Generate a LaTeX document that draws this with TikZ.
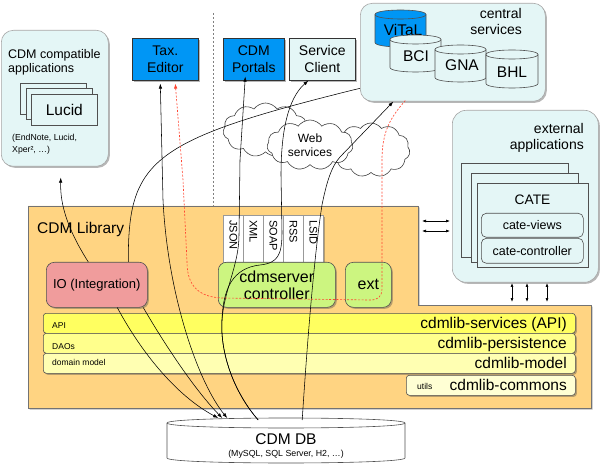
\documentclass[tikz,border=0pt]{standalone}
\usepackage{fontspec}
\setmainfont{Liberation Sans}
\usetikzlibrary{shapes.symbols,shadows,arrows.meta,calc}
\definecolor{cyanbox}{RGB}{228,246,246}
\definecolor{bluebox}{RGB}{0,150,245}
\definecolor{libor}{RGB}{255,212,130}
\definecolor{iopink}{RGB}{240,156,156}
\definecolor{srvgreen}{RGB}{204,245,128}
\definecolor{layA}{RGB}{255,255,96}
\definecolor{layB}{RGB}{255,255,140}
\definecolor{layC}{RGB}{255,255,178}
\definecolor{layD}{RGB}{255,255,212}
\definecolor{reddash}{RGB}{255,70,50}
\definecolor{edgegray}{RGB}{80,80,80}
\newcommand{\fs}[2]{\fontsize{#1}{#2}\selectfont}
% cylinder: x1, x2, top, bottom, ry, fill
\newcommand{\drawcyl}[6]{%
  \filldraw[fill=#6, draw=edgegray, line width=0.6pt]
    (#1,#3+#5) -- (#1,#4-#5) .. controls (#1,#4+#5/3) and (#2,#4+#5/3) .. (#2,#4-#5)
    -- (#2,#3+#5) .. controls (#2,#3-#5/3) and (#1,#3-#5/3) .. (#1,#3+#5) -- cycle;
  \draw[edgegray, line width=0.6pt]
    (#1,#3+#5) .. controls (#1,#3+7*#5/3) and (#2,#3+7*#5/3) .. (#2,#3+#5);}
\begin{document}
\begin{tikzpicture}[x=1pt,y=-1pt,>={Latex[length=5pt,width=3.5pt]},
  shd/.style={drop shadow={shadow xshift=1.5pt,shadow yshift=-1.5pt,opacity=0.4,fill=black!70}},
  cyanR/.style={draw=gray!70,fill=cyanbox,rounded corners=12pt,shd,line width=0.6pt,inner sep=0,anchor=north west},
  blueB/.style={draw=black!80,fill=bluebox,shd,line width=0.6pt,inner sep=0,anchor=north west,align=center,font=\fs{14}{17}},
  clientB/.style={draw=black!80,fill=cyanbox,shd,line width=0.6pt,inner sep=0,anchor=north west,align=center,font=\fs{14}{17}},
  stackB/.style={draw=edgegray,fill=cyanbox,line width=0.6pt,inner sep=0,anchor=north west},
  pinkB/.style={draw=edgegray,fill=iopink,rounded corners=8pt,shd,line width=0.6pt,inner sep=0,anchor=north west,font=\fs{13}{15}},
  greenB/.style={draw=edgegray,fill=srvgreen,rounded corners=8pt,shd,line width=0.6pt,inner sep=0,anchor=north west,align=center,font=\fs{16}{17}},
  tabB/.style={draw=gray!80,fill=white,shd,line width=0.6pt,inner sep=0,anchor=north west,minimum width=20,minimum height=47},
  tabT/.style={rotate=-90,anchor=west,inner sep=0,font=\fs{11}{13}},
  layerB/.style={draw=edgegray,rounded corners=3pt,shd,line width=0.6pt,inner sep=0,anchor=north west,minimum height=20},
  bigT/.style={anchor=base east,inner sep=0,font=\fs{15.5}{18}},
  smallT/.style={anchor=base west,inner sep=0,font=\fs{8.5}{10}},
  cloudB/.style={cloud,cloud puffs=11,cloud puff arc=110,cloud ignores aspect,draw=black!75,fill=white,line width=0.6pt,inner sep=0},
  conn/.style={draw=black,line width=0.55pt},
  redconn/.style={draw=reddash,line width=0.65pt,dash pattern=on 2pt off 1.6pt},
  dblarr/.style={draw=black,line width=0.6pt,{Latex[length=4pt,width=3pt]}-{Latex[length=4pt,width=3pt]}}
]
\useasboundingbox (0,0) rectangle (600,465);

% separator
\draw[gray,line width=0.7pt,dash pattern=on 2pt off 2pt] (213,13) -- (213,206);

% CDM compatible applications
\node[cyanR,minimum width=107,minimum height=136] (compat) at (1,30) {};
\node[anchor=north west,align=left,inner sep=0,font=\fs{12.5}{14}] (compatT) at (8,49) {CDM compatible\\applications};
\node[stackB,minimum width=66,minimum height=31] (lucA) at (20,83) {};
\node[stackB,minimum width=66,minimum height=31] (lucB) at (25.5,88.5) {};
\node[stackB,minimum width=66,minimum height=31,font=\fs{15.5}{18}] (lucid) at (31,94) {Lucid};
\node[anchor=north west,align=left,inner sep=0,font=\fs{8.7}{11.5}] (compatN) at (12,134) {(EndNote, Lucid,\\Xper², …)};

% top boxes
\node[blueB,minimum width=66,minimum height=42] (tax) at (132,38) {Tax.\\Editor};
\node[blueB,minimum width=61,minimum height=42] (portals) at (223,38) {CDM\\Portals};
\node[clientB,minimum width=66,minimum height=42] (sc) at (289,38) {Service\\Client};

% central services
\node[cyanR,minimum width=185,minimum height=98] (cs) at (360,3) {};
\node[anchor=north east,align=right,inner sep=0,font=\fs{14}{16}] (csT) at (522,8) {central\\services};
\drawcyl{375}{426}{10}{47}{4.5}{bluebox}
\node[inner sep=0,font=\fs{15.5}{18}] (vital) at (403,30) {ViTaL};
\drawcyl{390}{441}{35}{72}{4.5}{cyanbox}
\node[inner sep=0,font=\fs{15.5}{18}] (bci) at (416,56) {BCI};
\drawcyl{435}{486}{45}{82}{4.5}{cyanbox}
\node[inner sep=0,font=\fs{15.5}{18}] (gna) at (462,65) {GNA};
\drawcyl{486}{538}{50}{88}{4.5}{cyanbox}
\node[inner sep=0,font=\fs{15.5}{18}] (bhl) at (512,72) {BHL};

% external applications
\node[cyanR,rounded corners=14pt,minimum width=146,minimum height=172] (extapp) at (452,110) {};
\node[anchor=north east,align=right,inner sep=0,font=\fs{14}{16}] (extT) at (584,123) {external\\applications};
\node[stackB,minimum width=107,minimum height=94] (cateA) at (461,163) {};
\node[stackB,minimum width=107,minimum height=89] (cateB) at (471,173) {};
\node[stackB,minimum width=111,minimum height=84] (cate) at (477,183) {};
\node[inner sep=0,font=\fs{13.75}{16}] (cateT) at (532.5,200) {CATE};
\node[stackB,rounded corners=5pt,minimum width=102,minimum height=24,font=\fs{12.5}{14}] (cviews) at (481,213) {cate-views};
\node[stackB,rounded corners=5pt,minimum width=102,minimum height=25,font=\fs{12.5}{14}] (cctrl) at (481,238) {cate-controller};

% CDM Library
\fill[black!70,opacity=0.4,xshift=1.5pt,yshift=-1.5pt] (28,206) -- (418,206) -- (418,305) -- (591,305) -- (591,408) -- (28,408) -- cycle;
\filldraw[fill=libor,draw=black!55,line width=0.6pt] (28,206) -- (418,206) -- (418,305) -- (591,305) -- (591,408) -- (28,408) -- cycle;
\node[anchor=base west,inner sep=0,font=\fs{15.5}{18}] (libT) at (37,234) {CDM Library};

\node[pinkB,minimum width=101,minimum height=45] (io) at (46,262) {IO (Integration)};

\node[tabB] (json) at (223,215) {};
\node[tabB] (xml) at (243,215) {};
\node[tabB] (soap) at (263,215) {};
\node[tabB] (rss) at (283,215) {};
\node[tabB] (lsid) at (303,215) {};
\node[tabT] at ($(json.north)+(0,5)$) {JSON};
\node[tabT] at ($(xml.north)+(0,5)$) {XML};
\node[tabT] at ($(soap.north)+(0,5)$) {SOAP};
\node[tabT] at ($(rss.north)+(0,5)$) {RSS};
\node[tabT] at ($(lsid.north)+(0,5)$) {LSID};

\node[greenB,minimum width=117,minimum height=45] (srv) at (218,262) {cdmserver\\controller};
\node[greenB,minimum width=46,minimum height=45] (ext) at (345,262) {ext};

\node[layerB,fill=layA,minimum width=532] (lapi) at (43,313) {};
\node[layerB,fill=layB,minimum width=532] (lper) at (43,333) {};
\node[layerB,fill=layC,minimum width=532] (lmod) at (43,353) {};
\node[layerB,fill=layD,minimum width=169] (lcom) at (406,375) {};
\node[bigT] (tapi) at (567,328) {cdmlib-services (API)};
\node[bigT] (tper) at (567,348) {cdmlib-persistence};
\node[bigT] (tmod) at (567,368) {cdmlib-model};
\node[bigT] (tcom) at (567,390) {cdmlib-commons};
\node[smallT] (sapi) at (52,328) {API};
\node[smallT] (sdao) at (52,349) {DAOs};
\node[smallT] (smod) at (52,365) {domain model};
\node[smallT] (sut) at (417,389) {utils};

% CDM DB
\drawcyl{167}{405}{418}{463}{5}{white}
\node[minimum width=238,minimum height=45,inner sep=0,anchor=north west] (db) at (167,418) {};
\node[inner sep=0,font=\fs{15.5}{18}] (dbT) at (286,439) {CDM DB};
\node[inner sep=0,font=\fs{8.8}{10}] (dbN) at (286,454) {(MySQL, SQL Server, H2, …)};

% clouds
\node[cloudB,minimum width=85,minimum height=54] (cl1) at (265.5,130) {};
\node[cloudB,minimum width=78,minimum height=54] (cl3) at (371,150) {};
\node[cloudB,minimum width=86,minimum height=50,align=center,font=\fs{12}{14}] (web) at (310,145) {Web\\services};

% connectors
\draw[conn,->] ([xshift=-8.5pt]io.north) .. controls (68,230) and (60,205) .. ([xshift=6pt,yshift=-11pt]compat.south);
\draw[conn] ([xshift=31.5pt]io.north) .. controls (128,160) and (150,140) .. ([yshift=-36pt]cs.west);
\draw[conn,<->] ([xshift=-5pt,yshift=-3pt]tax.south) -- (163,200) .. controls (168,300) and (200,385) .. ([xshift=-59pt]db.north);
\draw[conn,->] ([xshift=20.5pt]io.south) .. controls (140,350) and (175,395) .. ([xshift=-68pt]db.north);
\draw[conn,->] ([xshift=46.5pt]io.south) .. controls (165,345) and (195,390) .. ([xshift=-64pt]db.north);
\draw[conn,->] ([xshift=-28pt,yshift=-2pt]db.north) .. controls (232,390) and (220,350) .. (222,320)
   .. controls (224,290) and (239,265) .. (239,235) -- (240,160) -- ([xshift=-8.5pt,yshift=4pt]portals.south);
\draw[conn,->] ([xshift=-28pt,yshift=-2pt]db.north) .. controls (232,390) and (220,350) .. (222,320)
   .. controls (223,290) and (232,268) .. (260,265) .. controls (278,263) and (282,255) .. (282,232)
   -- (281,175) .. controls (281,120) and (292,95) .. ([xshift=-14pt]sc.south);
\draw[conn,->] ([xshift=16pt,yshift=-2pt]db.north) .. controls (308,330) and (315,250) .. (322,205)
   .. controls (327,180) and (332,166) .. (340,157) -- ([xshift=-59.5pt]cs.south);
\draw[redconn,->,reddash] ([xshift=-47.5pt,yshift=1pt]cs.south) .. controls (390,118) and (382,132) .. (382,160)
   -- (382,288) .. controls (382,297) and (378,300) .. (370,300) -- (222,298)
   .. controls (198,297) and (187,285) .. (187,262) -- (183,180) -- ([xshift=10pt,yshift=-3pt]tax.south);

% library <-> external applications
\draw[dblarr] (422,221) -- (450,221);
\draw[dblarr] (422,231) -- (450,231);
\draw[dblarr] (512,283) -- (512,302);
\draw[dblarr] (527,283) -- (527,302);
\draw[dblarr] (547,283) -- (547,302);
\end{tikzpicture}
\end{document}
